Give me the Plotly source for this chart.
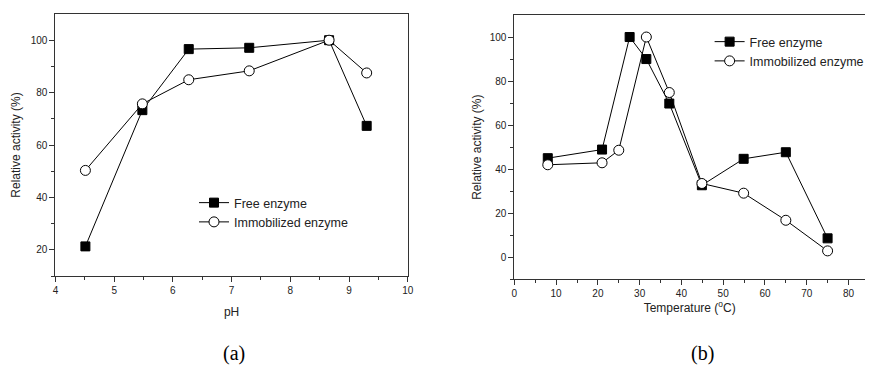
import plotly.graph_objects as go

# Panel (a): pH
ph_x = [4.51, 5.48, 6.27, 7.30, 8.66, 9.30]
ph_free = [21.3, 73.3, 96.6, 97.1, 100.0, 67.3]
ph_imm = [50.3, 75.7, 84.9, 88.3, 100.0, 87.5]

# Panel (b): Temperature
t_free_x = [8, 21, 27.6, 31.6, 37.1, 44.9, 54.9, 65, 75]
t_free = [45.0, 48.9, 100.0, 90.0, 69.8, 32.7, 44.7, 47.7, 8.6]
t_imm_x = [8, 21, 25, 31.6, 37.1, 44.9, 54.9, 65, 75]
t_imm = [42.0, 42.9, 48.6, 100.0, 74.8, 33.5, 29.1, 16.8, 2.9]

labels = ["Free enzyme", "Immobilized enzyme"]
captions = ["(a)", "(b)"]

W, H = 871, 367
def px(x):
    return x / W
def py(y):
    return (H - y) / H

fig = go.Figure()

sq = dict(symbol="square", size=9, color="black", line=dict(color="black", width=1))
ci = dict(symbol="circle", size=10, color="white", line=dict(color="black", width=1))
ln = dict(color="black", width=1)

fig.add_trace(go.Scatter(x=ph_x, y=ph_free, mode="lines+markers", name=labels[0],
                         line=ln, marker=sq, xaxis="x", yaxis="y", legend="legend"))
fig.add_trace(go.Scatter(x=ph_x, y=ph_imm, mode="lines+markers", name=labels[1],
                         line=ln, marker=ci, xaxis="x", yaxis="y", legend="legend"))
fig.add_trace(go.Scatter(x=t_free_x, y=t_free, mode="lines+markers", name=labels[0],
                         line=ln, marker=sq, xaxis="x2", yaxis="y2", legend="legend2"))
fig.add_trace(go.Scatter(x=t_imm_x, y=t_imm, mode="lines+markers", name=labels[1],
                         line=ln, marker=ci, xaxis="x2", yaxis="y2", legend="legend2"))

tickfont = dict(family="Arial, Liberation Sans, sans-serif", size=10, color="#222")
titlefont = dict(family="Arial, Liberation Sans, sans-serif", size=12, color="#222")
axcommon = dict(showgrid=False, zeroline=False, showline=True, linecolor="#333", linewidth=1,
                ticks="outside", ticklen=5, tickcolor="#333", tickwidth=1,
                tickfont=tickfont, title_font=titlefont)
legfont = dict(family="Arial, Liberation Sans, sans-serif", size=12.5, color="#222")

fig.update_layout(
    width=W, height=H, autosize=False,
    margin=dict(l=0, r=0, t=0, b=0),
    paper_bgcolor="white", plot_bgcolor="white",
    xaxis=dict(domain=[px(53), px(409)], range=[4, 10], dtick=1, mirror=True,
               minor=dict(ticks="outside", ticklen=3, dtick=0.5, tickcolor="#333"),
               title=dict(text="pH", standoff=12), anchor="y", **axcommon),
    yaxis=dict(domain=[py(276), py(14)], range=[10, 110], tickvals=[20, 40, 60, 80, 100], mirror=True,
               minor=dict(ticks="outside", ticklen=3, tickvals=[10, 30, 50, 70, 90], tickcolor="#333"),
               title=dict(text="Relative activity (%)", standoff=7), anchor="x", **axcommon),
    xaxis2=dict(domain=[px(516.7), 1.0], range=[0, (W - 516.7) / 4.22], dtick=10, mirror=True,
                minor=dict(ticks="outside", ticklen=3, dtick=5, tickcolor="#333"),
                title=dict(text="Temperature (<sup>o</sup>C)", standoff=4), anchor="y2", **axcommon),
    yaxis2=dict(domain=[py(279.3), py(15)], range=[-10, 110], tickvals=[0, 20, 40, 60, 80, 100], mirror=False,
                minor=dict(ticks="outside", ticklen=3, tickvals=[-10, 10, 30, 50, 70, 90], tickcolor="#333"),
                title=dict(text="Relative activity (%)", standoff=5), anchor="x2", **axcommon),
    legend=dict(x=px(193), y=py(188), xanchor="left", yanchor="top", bgcolor="rgba(0,0,0,0)",
                font=legfont, tracegroupgap=0, itemwidth=30),
    legend2=dict(x=px(714), y=py(27), xanchor="left", yanchor="top", bgcolor="rgba(0,0,0,0)",
                 font=legfont, tracegroupgap=0, itemwidth=30),
    showlegend=True,
)

fig.add_annotation(text=captions[0], x=px(233), y=py(353), xref="paper", yref="paper",
                   xanchor="center", yanchor="middle", showarrow=False,
                   font=dict(family="Liberation Serif, Times New Roman, serif", size=20, color="black"))
fig.add_annotation(text=captions[1], x=px(707), y=py(353), xref="paper", yref="paper",
                   xanchor="center", yanchor="middle", showarrow=False,
                   font=dict(family="Liberation Serif, Times New Roman, serif", size=20, color="black"))

fig.write_html("out.html", config={"displayModeBar": False},
               post_script="document.body.style.margin='0';document.body.style.overflow='hidden';")
